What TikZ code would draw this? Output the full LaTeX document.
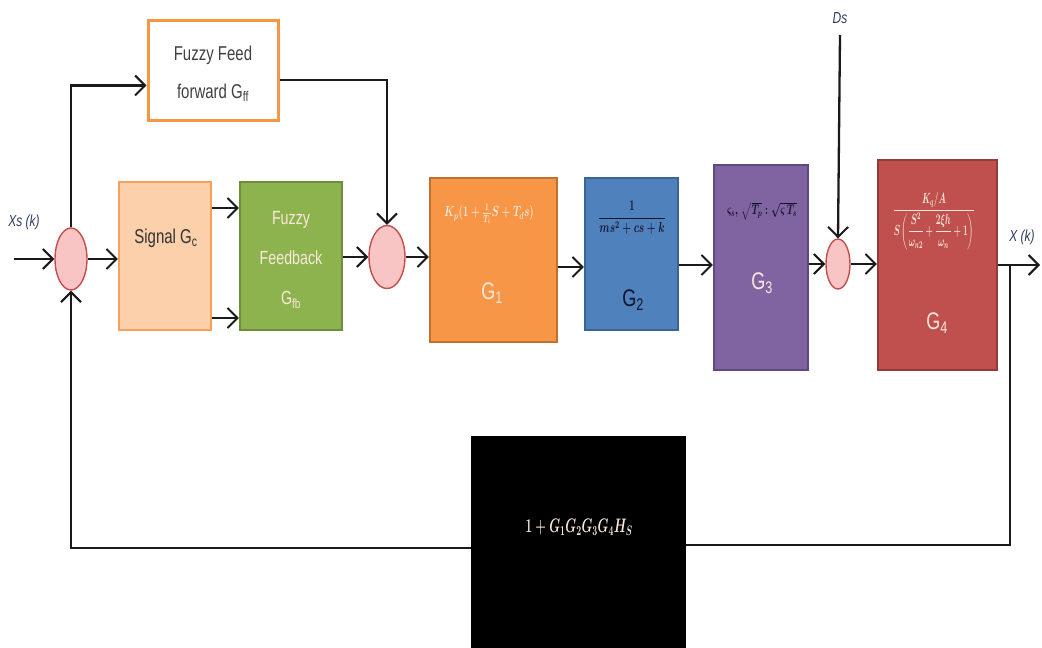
\RequirePackage{fix-cm}
\documentclass[tikz,border=0pt]{standalone}
\usepackage{amsmath}
\usepackage{fontspec}
\setmainfont{Liberation Sans}[FakeStretch=0.75]
\usetikzlibrary{shapes.geometric,arrows.meta,calc}
\definecolor{linec}{HTML}{1A1A1A}
\definecolor{sumf}{HTML}{F9C4C4}
\definecolor{sumb}{HTML}{C0504D}
\definecolor{ffb}{HTML}{F79646}
\definecolor{sigf}{HTML}{FBD0AA}
\definecolor{sigb}{HTML}{F6A05C}
\definecolor{fbf}{HTML}{8DB34E}
\definecolor{fbb}{HTML}{6E8E3A}
\definecolor{gof}{HTML}{F79646}
\definecolor{gob}{HTML}{C0702F}
\definecolor{gbf}{HTML}{4F81BD}
\definecolor{gbb}{HTML}{3A6494}
\definecolor{gpf}{HTML}{8064A2}
\definecolor{gpb}{HTML}{5E4A7C}
\definecolor{grf}{HTML}{C0504D}
\definecolor{grb}{HTML}{933B39}
\definecolor{iocol}{HTML}{2F3D5C}
\definecolor{wtxt}{HTML}{FBE8DC}
\definecolor{dtxt}{HTML}{14142A}
\begin{document}
\begin{tikzpicture}[x=1pt,y=-1pt,
  blk/.style={draw, rectangle, line width=2.2pt, inner sep=0pt},
  sumn/.style={ellipse, draw=sumb, fill=sumf, line width=1.4pt, inner sep=0pt},
  conn/.style={line width=2.3pt, draw=linec, -{Straight Barb[length=10pt,width=20pt,line width=2pt]}},
  plain/.style={line width=2.3pt, draw=linec},
  lbl/.style={font=\fontsize{20}{38}\selectfont, align=center},
  glbl/.style={font=\fontsize{24}{26}\selectfont, text=wtxt},
  mth/.style={font=\fontsize{14}{16}\selectfont\boldmath},
  io/.style={font=\itshape\fontsize{16}{18}\selectfont, text=iocol}]
\useasboundingbox (0,0) rectangle (1042,648);
% summing junctions
\node[sumn, minimum width=32pt, minimum height=62pt] (s1) at (71,259) {};
\node[sumn, minimum width=36pt, minimum height=63pt] (s2) at (387,257) {};
\node[sumn, minimum width=24pt, minimum height=50pt] (s3) at (838,264) {};
% blocks
\node[blk, draw=ffb, line width=3pt, fill=white, minimum width=130pt, minimum height=100pt] (ff) at (213,70) {};
\node[lbl, text=black!75] (fft) at (213,74) {Fuzzy Feed\\forward G\textsubscript{ff}};
\node[blk, draw=sigb, fill=sigf, minimum width=92pt, minimum height=148pt] (sig) at (165,256) {};
\node[lbl, text=black!80] (sigt) at (166,238) {Signal G\textsubscript{c}};
\node[blk, draw=fbb, fill=fbf, minimum width=102pt, minimum height=148pt] (fb) at (291,256) {};
\node[lbl, text=wtxt, font=\fontsize{19}{40}\selectfont] (fbt) at (291,260) {Fuzzy\\Feedback\\G\textsubscript{fb}};
\node[blk, draw=gob, fill=gof, minimum width=127pt, minimum height=164pt] (g1) at (493.5,260) {};
\node[mth, text=wtxt] (g1f) at (489,214) {\scalebox{0.72}[1.05]{$K_p(1+\tfrac{1}{T_i}S+T_d s)$}};
\node[glbl] (g1t) at (492,293) {G\textsubscript{1}};
\node[blk, draw=gbb, fill=gbf, minimum width=93pt, minimum height=152pt] (g2) at (631.5,254) {};
\node[mth, text=dtxt] (g2f) at (632,218) {\scalebox{0.72}[1.05]{$\dfrac{1}{ms^2+cs+k}$}};
\node[glbl, text=dtxt] (g2t) at (633,300) {G\textsubscript{2}};
\node[blk, draw=gpb, fill=gpf, minimum width=94pt, minimum height=205pt] (g3) at (761,267.5) {};
\node[mth, text=dtxt] (g3f) at (762,211) {\scalebox{0.68}[1.0]{$\varsigma_s,\ \sqrt{T_p}:\sqrt{\varsigma\, T_s}$}};
\node[glbl] (g3t) at (762,283) {G\textsubscript{3}};
\node[blk, draw=grb, fill=grf, minimum width=119pt, minimum height=210pt] (g4) at (937.5,265) {};
\node[mth, text=wtxt] (g4f) at (934,221) {\scalebox{0.6}[1.05]{$\dfrac{{K_q}/{A}}{S\left(\dfrac{S^2}{\omega_{n2}}+\dfrac{2\xi h}{\omega_n}+1\right)}$}};
\node[glbl] (g4t) at (937,323) {G\textsubscript{4}};
\node[blk, draw=black, fill=black, minimum width=213pt, minimum height=211pt] (h) at (578.5,542.5) {};
\node[text=wtxt, font=\fontsize{17}{19}\selectfont\boldmath] (ht) at (579,527) {\scalebox{0.72}[1.15]{$1+G_1G_2G_3G_4H_S$}};
% io labels
\node[io] (xs) at (24,222) {Xs (k)};
\node[io] (xk) at (1022,237) {X (k)};
\node[io] (dsl) at (840,18) {Ds};
\coordinate (xin) at (14,259);
\coordinate (ds) at (840,35);
\coordinate (xout) at (1040,265);
\coordinate (tap) at (1010,265);
% connectors
\draw[conn] (xin) -- (s1.west);
\draw[conn] (s1.east) -- (s1.east -| sig.west);
\draw[conn] (s1.north) |- ($(ff.north west)!0.65!(ff.south west)$);
\draw[conn] ($(ff.north east)!0.6!(ff.south east)$) -| (s2.north);
\draw[conn] (sig.east |- 0,208) -- (fb.west |- 0,208);
\draw[conn] (sig.east |- 0,318) -- (fb.west |- 0,318);
\draw[conn] (fb.east |- s2.west) -- (s2.west);
\draw[conn] (s2.east) -- (s2.east -| g1.west);
\draw[conn] (g1.east |- 0,267) -- (g2.west |- 0,267);
\draw[conn] (g2.east |- 0,265) -- (g3.west |- 0,265);
\draw[conn] (g3.east |- s3.west) -- (s3.west);
\draw[conn] (ds) -- (s3.north);
\draw[conn] (s3.east) -- (s3.east -| g4.west);
\draw[conn] (g4.east |- xout) -- (xout);
\draw[plain] (tap) |- (h.east |- 0,545);
\draw[conn] (h.west |- 0,548) -| (s1.south);
\end{tikzpicture}
\end{document}
